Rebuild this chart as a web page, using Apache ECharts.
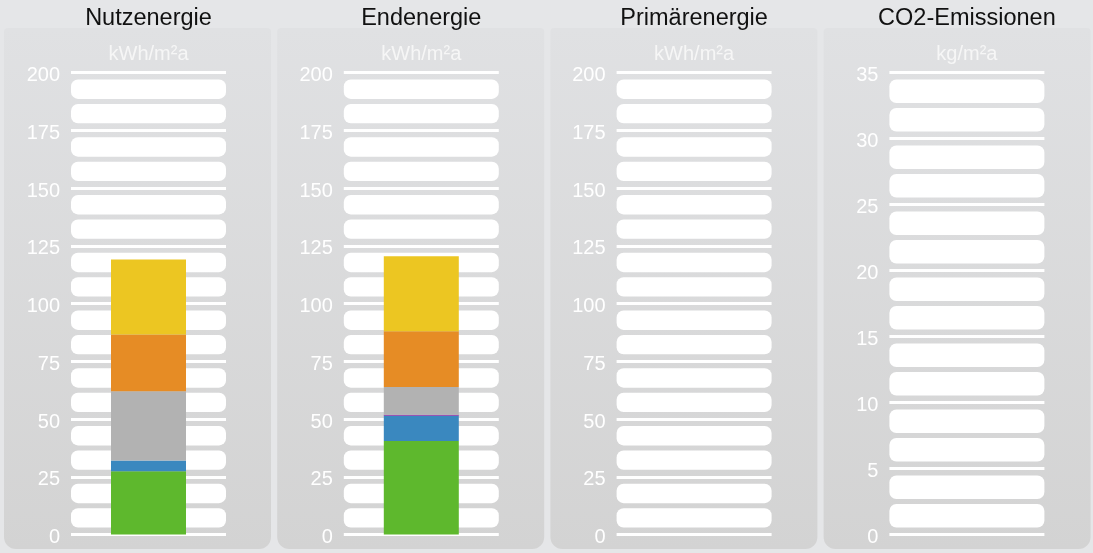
<!DOCTYPE html>
<html>
<head>
<meta charset="utf-8">
<script src="https://cdn.jsdelivr.net/npm/echarts@6/dist/echarts.min.js"></script>
<style>
html,body{margin:0;padding:0;background:#e5e6e8;}
#chart{width:1093px;height:553px;}
</style>
</head>
<body>
<div id="chart"></div>
<script>
// ---- data ----
const panelTitles = ['Nutzenergie', 'Endenergie', 'Primärenergie', 'CO2-Emissionen'];
const panelUnits = ['kWh/m²a', 'kWh/m²a', 'kWh/m²a', 'kg/m²a'];
const axisMax = [200, 200, 200, 35];
const axisInterval = [25, 25, 25, 5];
const segmentNames = ['Grün', 'Blau', 'Violett', 'Grau', 'Orange', 'Gelb'];
const segmentColors = ['#5eb82d', '#3a88bf', '#8e2fa8', '#b2b2b2', '#e68c25', '#ecc622'];
const nutzenergieValues = [27.4, 4.6, 0, 30.0, 24.6, 32.4];
const endenergieValues = [40.5, 10.9, 0.4, 12.0, 24.2, 32.5];
const primaerenergieValues = [];
const co2Values = [];
const panelValues = [nutzenergieValues, endenergieValues, primaerenergieValues, co2Values];

// ---- layout ----
const panelStep = 272.8;
const gridLeft0 = 71;
const gridWidth = 155;
const gridTop = 72.5;
const gridBottomY = 534.5;

const grids = [], xAxes = [], yAxes = [], series = [], titles = [], graphics = [];

for (let i = 0; i < 4; i++) {
  const left = gridLeft0 + i * panelStep;
  const center = left + gridWidth / 2;
  grids.push({ left: left, top: gridTop, width: gridWidth, height: gridBottomY - gridTop });
  xAxes.push({
    type: 'category', gridIndex: i, data: [panelTitles[i]],
    axisLine: { show: false }, axisTick: { show: false }, axisLabel: { show: false }, splitLine: { show: false }
  });
  yAxes.push({
    type: 'value', gridIndex: i, min: 0, max: axisMax[i], interval: axisInterval[i],
    axisLine: { show: false }, axisTick: { show: false },
    axisLabel: {
      color: '#ffffff', fontSize: 20, fontFamily: 'Liberation Sans', margin: 11,
      formatter: '{v|{value}}',
      rich: { v: { color: '#ffffff', fontSize: 20, fontFamily: 'Liberation Sans', padding: [6, 0, 0, 0] } }
    },
    splitLine: { show: true, lineStyle: { color: '#ffffff', width: 3 } }
  });
  titles.push({
    text: panelTitles[i], left: center, top: 7, textAlign: 'center', padding: 0,
    textStyle: { color: '#111111', fontSize: 23.5, fontWeight: 'normal', fontFamily: 'Liberation Sans' }
  });
  titles.push({
    text: panelUnits[i], left: center, top: 44, textAlign: 'center', padding: 0,
    textStyle: { color: '#f6f6f6', fontSize: 20, fontWeight: 'normal', fontFamily: 'Liberation Sans' }
  });
  // panel background
  const px = 4 + i * 273.2;
  graphics.push({
    type: 'rect', z: -10, silent: true,
    shape: { x: px, y: 28, width: 267, height: 521, r: [4, 4, 12, 12] },
    style: {
      fill: new echarts.graphic.LinearGradient(0, 0, 0, 1, [
        { offset: 0, color: '#e0e1e3' }, { offset: 1, color: '#d3d3d3' }
      ])
    }
  });
  // stripes (half-interval bands)
  const half = axisInterval[i] / 2;
  const nStripes = Math.round(axisMax[i] / half);
  const stripeData = [];
  for (let k = 0; k < nStripes; k++) stripeData.push([k * half, (k + 1) * half, k % 2]);
  series.push({
    type: 'custom', xAxisIndex: i, yAxisIndex: i, z: 1, silent: true,
    data: stripeData,
    encode: { y: [0, 1] },
    renderItem: function (params, api) {
      const lo = api.value(0), hi = api.value(1), odd = api.value(2);
      const cs = params.coordSys;
      const yLo = api.coord([0, lo])[1];
      const yHi = api.coord([0, hi])[1];
      let top, bottom;
      if (odd) { top = yHi + 7; bottom = yLo - 2.5; }
      else { top = yHi + 2.5; bottom = yLo - 7; }
      return {
        type: 'rect',
        shape: { x: cs.x, y: top, width: cs.width, height: bottom - top, r: 7 },
        style: { fill: '#ffffff' }
      };
    }
  });
  // stacked bars
  const vals = panelValues[i];
  for (let s = 0; s < vals.length; s++) {
    series.push({
      type: 'bar', name: segmentNames[s], xAxisIndex: i, yAxisIndex: i,
      stack: 'stack' + i, barWidth: 75, z: 3,
      itemStyle: { color: segmentColors[s] },
      data: [vals[s]]
    });
  }
}

const chart = echarts.init(document.getElementById('chart'), null, { renderer: 'canvas' });
chart.setOption({
  backgroundColor: '#e5e6e8',
  animation: false,
  title: titles,
  grid: grids,
  xAxis: xAxes,
  yAxis: yAxes,
  graphic: { elements: graphics },
  series: series
});
</script>
</body>
</html>
